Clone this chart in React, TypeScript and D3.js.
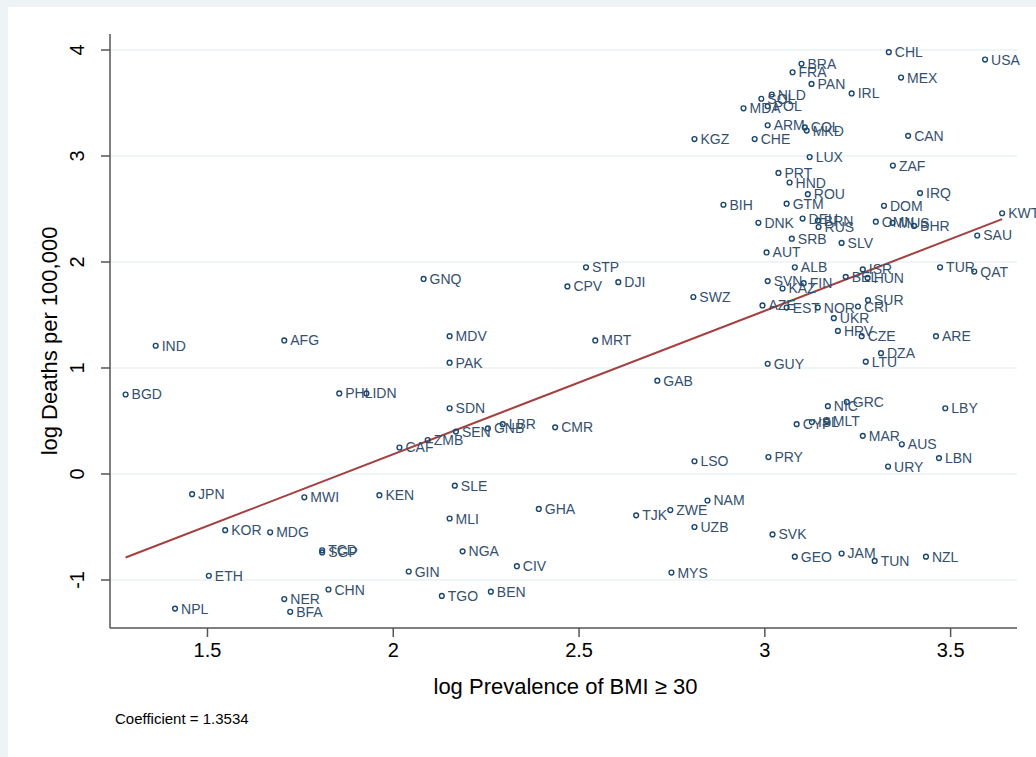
import { useEffect, useRef } from 'react';
import * as d3 from 'd3';

// country codes, log prevalence of BMI >= 30, log deaths per 100,000
const codes = [
  'CHL','USA','BRA','FRA','PAN','MEX','IRL','NLD','POL','SOL','MDA','ARM','COL','MKD','KGZ','CHE','CAN',
  'LUX','ZAF','PRT','HND','ROU','IRQ','BIH','GTM','DOM','KWT','DNK','DEU','BRN','RUS','OMN','MUS','BHR',
  'SAU','SRB','SLV','AUT','ALB','ISR','TUR','QAT','SVN','KAZ','FIN','BEL','HUN','SWZ','SUR','AZE','EST',
  'NOR','CRI','UKR','HRV','CZE','ARE','DZA','LTU','GUY','GAB','LBY','GRC','NIC','ISL','MLT','CYP','MAR',
  'AUS','LBN','URY','LSO','PRY',
  'BGD','IND','AFG','GNQ','STP','CPV','DJI','MDV','MRT','PAK','PHL','IDN','SDN','LBR','GNB','SEN','CMR',
  'ZMB','CAF','JPN','MWI','KEN','SLE','GHA','MLI','KOR','MDG','TCD','SGP','NGA','GIN','CIV','ETH','CHN',
  'NER','TGO','BEN','BFA','NPL','TJK','ZWE','NAM','UZB','MYS','SVK','GEO','JAM','TUN','NZL',
];
const logBmi = [
  3.335,3.594,3.10,3.076,3.127,3.368,3.235,3.02,3.009,2.992,2.944,3.009,3.109,3.114,2.812,2.974,3.387,
  3.122,3.346,3.038,3.068,3.117,3.419,2.89,3.06,3.322,3.64,2.984,3.103,3.144,3.146,3.30,3.345,3.403,
  3.573,3.074,3.208,3.006,3.082,3.265,3.473,3.565,3.009,3.049,3.106,3.219,3.278,2.809,3.279,2.995,3.06,
  3.144,3.252,3.187,3.198,3.262,3.462,3.314,3.273,3.009,2.712,3.487,3.222,3.171,3.128,3.168,3.087,3.265,
  3.37,3.47,3.333,2.812,3.011,
  1.281,1.362,1.708,2.083,2.52,2.47,2.607,2.153,2.545,2.153,1.856,1.929,2.153,2.296,2.256,2.17,2.437,
  2.094,2.018,1.46,1.762,1.964,2.167,2.393,2.153,1.549,1.67,1.81,1.81,2.188,2.043,2.334,1.505,1.827,
  1.708,2.132,2.264,1.724,1.414,2.655,2.747,2.847,2.812,2.75,3.022,3.082,3.208,3.297,3.435,
];
const logDeaths = [
  3.98,3.91,3.87,3.79,3.68,3.74,3.59,3.58,3.47,3.54,3.45,3.29,3.27,3.24,3.16,3.16,3.19,
  2.99,2.91,2.84,2.75,2.64,2.65,2.54,2.55,2.53,2.46,2.37,2.41,2.39,2.33,2.38,2.37,2.34,
  2.25,2.22,2.18,2.09,1.95,1.93,1.95,1.91,1.82,1.75,1.80,1.86,1.85,1.67,1.64,1.59,1.57,
  1.57,1.58,1.47,1.35,1.30,1.30,1.14,1.06,1.04,0.88,0.62,0.68,0.64,0.49,0.50,0.47,0.36,
  0.28,0.15,0.07,0.12,0.16,
  0.75,1.21,1.26,1.84,1.95,1.77,1.81,1.30,1.26,1.05,0.76,0.76,0.62,0.47,0.43,0.40,0.44,
  0.32,0.25,-0.19,-0.22,-0.20,-0.11,-0.33,-0.42,-0.53,-0.55,-0.72,-0.74,-0.73,-0.92,-0.87,-0.96,-1.09,
  -1.18,-1.15,-1.11,-1.30,-1.27,-0.39,-0.34,-0.25,-0.50,-0.93,-0.57,-0.78,-0.75,-0.82,-0.78,
];
const xTicks = [1.5, 2, 2.5, 3, 3.5];
const yTicks = [-1, 0, 1, 2, 3, 4];
const coefficient = 1.3534;
const intercept = -2.522;

const FONT = 'Arial, Liberation Sans, sans-serif';

export default function App() {
  const ref = useRef<SVGSVGElement>(null);

  useEffect(() => {
    const svg = d3.select(ref.current);
    svg.selectAll('*').remove();
    const W = 1036, H = 757;
    const L = 110, R = 1017, T = 34, B = 628;

    svg.append('rect').attr('width', W).attr('height', H).attr('fill', '#eef3f5');
    svg.append('rect').attr('x', 8).attr('y', 7).attr('width', W - 8).attr('height', H - 7).attr('fill', '#fff');

    const x = d3.scaleLinear().domain([1.239, 3.680]).range([L, R]);
    const y = d3.scaleLinear().domain([-1.453, 4.151]).range([B, T]);

    // gridlines
    yTicks.forEach((t) => {
      svg.append('line').attr('x1', L).attr('x2', R).attr('y1', y(t)).attr('y2', y(t))
        .attr('stroke', '#eaf2f3').attr('stroke-width', 1.5);
    });

    // axes
    const xAxis = svg.append('g').attr('transform', `translate(0,${B})`)
      .call(d3.axisBottom(x).tickValues(xTicks).tickSize(9).tickPadding(6).tickFormat((d) => String(d)));
    xAxis.select('.domain').attr('d', `M${L},0H${R}`).attr('stroke', '#555').attr('stroke-width', 1.5);
    xAxis.selectAll('line').attr('stroke', '#555').attr('stroke-width', 1.5);
    xAxis.selectAll('text').attr('font-size', 20).attr('font-family', FONT).attr('fill', '#000');

    const yAxis = svg.append('g').attr('transform', `translate(${L},0)`)
      .call(d3.axisLeft(y).tickValues(yTicks).tickSize(9).tickFormat((d) => String(d)));
    yAxis.select('.domain').attr('d', `M0,${T}V${B}`).attr('stroke', '#555').attr('stroke-width', 1.5);
    yAxis.selectAll('line').attr('stroke', '#555').attr('stroke-width', 1.5);
    yAxis.selectAll('text')
      .attr('x', 0).attr('dy', 0)
      .attr('transform', (d: any) => `translate(-26,${y(d)}) rotate(-90)`)
      .attr('y', 0).attr('text-anchor', 'middle')
      .attr('font-size', 20).attr('font-family', FONT).attr('fill', '#000');
    yAxis.selectAll('.tick').attr('transform', null);
    yAxis.selectAll('.tick line').attr('transform', (d: any) => `translate(0,${y(d)})`);

    // fit line
    const x0 = d3.min(logBmi)!, x1 = d3.max(logBmi)!;
    svg.append('line')
      .attr('x1', x(x0)).attr('y1', y(intercept + coefficient * x0))
      .attr('x2', x(x1)).attr('y2', y(intercept + coefficient * x1))
      .attr('stroke', '#a4403f').attr('stroke-width', 2);

    // points + labels
    const g = svg.append('g');
    codes.forEach((c, i) => {
      const px = x(logBmi[i]), py = y(logDeaths[i]);
      g.append('circle').attr('cx', px).attr('cy', py).attr('r', 2.4)
        .attr('fill', 'none').attr('stroke', '#1a476f').attr('stroke-width', 1.4);
      g.append('text').attr('x', px + 6).attr('y', py + 5).text(c)
        .attr('font-size', 14).attr('font-family', FONT).attr('fill', '#34506e');
    });

    svg.append('text').attr('x', 57).attr('y', (T + B) / 2 + 10)
      .attr('transform', `rotate(-90,57,${(T + B) / 2 + 10})`).attr('text-anchor', 'middle')
      .attr('font-size', 22).attr('font-family', FONT).text('log Deaths per 100,000');
    svg.append('text').attr('x', (L + R) / 2 + 2).attr('y', 694).attr('text-anchor', 'middle')
      .attr('font-size', 22).attr('font-family', FONT).text('log Prevalence of BMI ≥ 30');
    svg.append('text').attr('x', 115).attr('y', 724)
      .attr('font-size', 15).attr('font-family', FONT).text(`Coefficient = ${coefficient}`);
  }, []);

  return <svg ref={ref} width={1036} height={757} style={{ position: 'absolute', left: 0, top: 0 }} />;
}
